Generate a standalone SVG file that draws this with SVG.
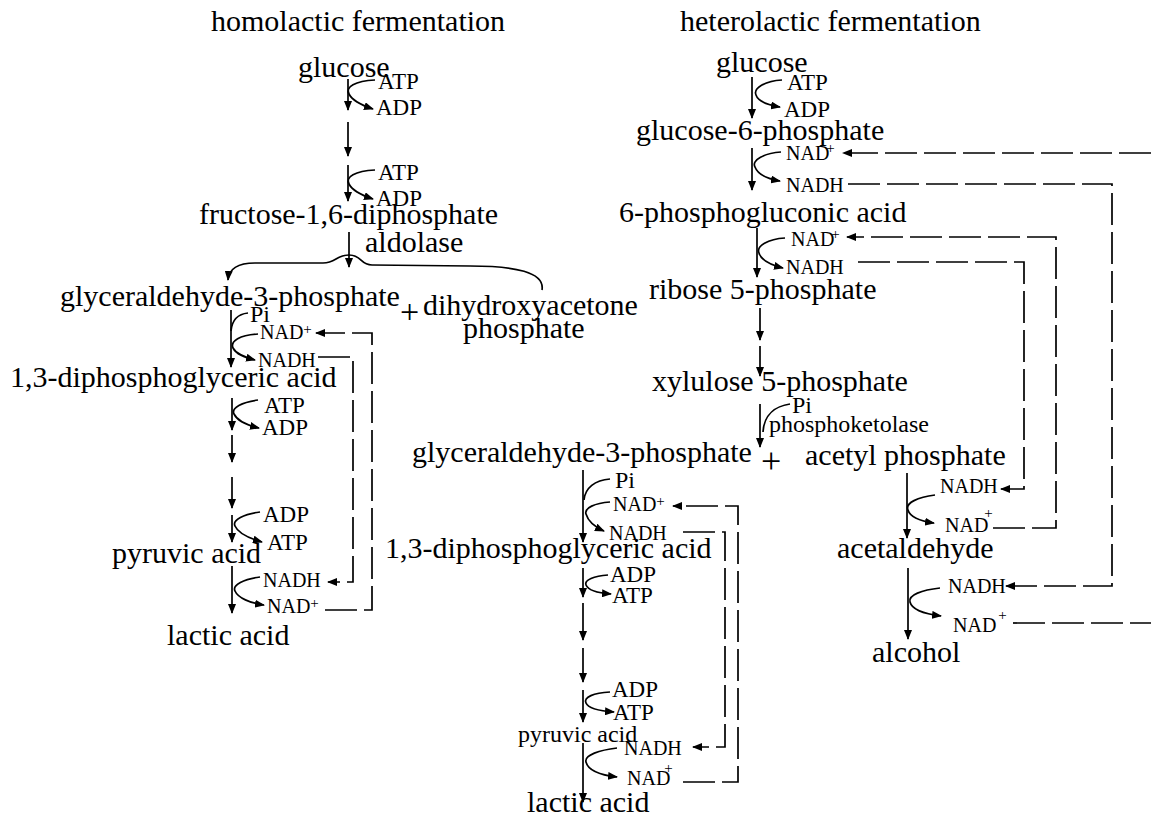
<svg xmlns="http://www.w3.org/2000/svg" width="1151" height="816" viewBox="0 0 1151 816">
<defs>
<marker id="ah" markerWidth="11" markerHeight="8" refX="9" refY="4" orient="auto" markerUnits="userSpaceOnUse"><path d="M0,0 L10,4 L0,8 z" fill="#000"/></marker>
<style>
text{font-family:"Liberation Serif","Times New Roman",serif;fill:#000}
.m{font-size:30px}
.s{font-size:23px}
.n{font-size:20px}
.p{font-size:24px}
.sup{font-size:15px}
.ln{fill:none;stroke:#000;stroke-width:1.7}
.ar{fill:none;stroke:#000;stroke-width:1.7;marker-end:url(#ah)}
.da{fill:none;stroke:#000;stroke-width:1.7;stroke-dasharray:32 7}
.dar{fill:none;stroke:#000;stroke-width:1.7;stroke-dasharray:32 7;marker-end:url(#ah)}
</style>
</defs>
<rect width="1151" height="816" fill="#fff"/>

<!-- titles -->
<g id="title-homo"><text class="m" x="211" y="31">homolactic fermentation</text></g>
<g id="title-hetero"><text class="m" x="680" y="31">heterolactic fermentation</text></g>

<!-- LEFT: homolactic -->
<g id="L-glucose"><text class="m" x="298" y="77">glucose</text></g>
<g id="L-atp1"><text class="s" x="378" y="89">ATP</text></g>
<g id="L-adp1"><text class="s" x="376" y="115">ADP</text></g>
<g id="L-atp2"><text class="s" x="378" y="180">ATP</text></g>
<g id="L-adp2"><text class="s" x="376" y="206">ADP</text></g>
<g id="L-fdp"><text class="m" x="199" y="224">fructose-1,6-diphosphate</text></g>
<g id="L-aldolase"><text class="m" x="365" y="252">aldolase</text></g>
<g id="L-g3p"><text class="m" x="60" y="306">glyceraldehyde-3-phosphate</text></g>
<g id="L-dhap"><text style="font-size:34px" x="400" y="323">+</text><text class="m" x="423" y="315">dihydroxyacetone</text><text class="m" x="463" y="338">phosphate</text></g>
<g id="L-pi"><text class="p" x="250" y="322">Pi</text></g>
<g id="L-nad1"><text class="n" x="260" y="339">NAD<tspan class="sup" dy="-5">+</tspan></text></g>
<g id="L-nadh1"><text class="n" x="258" y="367">NADH</text></g>
<g id="L-dpg"><text class="m" x="10" y="387">1,3-diphosphoglyceric acid</text></g>
<g id="L-atp3"><text class="s" x="264" y="413">ATP</text></g>
<g id="L-adp3"><text class="s" x="262" y="435">ADP</text></g>
<g id="L-adp4"><text class="s" x="263" y="522">ADP</text></g>
<g id="L-atp4"><text class="s" x="267" y="550">ATP</text></g>
<g id="L-pyruvic"><text class="m" x="112" y="563">pyruvic acid</text></g>
<g id="L-nadh2"><text class="n" x="263" y="587">NADH</text></g>
<g id="L-nad2"><text class="n" x="267" y="613">NAD<tspan class="sup" dy="-5">+</tspan></text></g>
<g id="L-lactic"><text class="m" x="167" y="645">lactic acid</text></g>

<!-- MIDDLE -->
<g id="M-g3p"><text class="m" x="412" y="462">glyceraldehyde-3-phosphate</text></g>
<g id="M-plus"><text style="font-size:36px" x="761" y="473">+</text></g>
<g id="M-pi"><text class="p" x="615" y="488">Pi</text></g>
<g id="M-nad1"><text class="n" x="613" y="511">NAD<tspan class="sup" dy="-5">+</tspan></text></g>
<g id="M-nadh1"><text class="n" x="609" y="540">NADH</text></g>
<g id="M-dpg"><text class="m" x="385" y="558">1,3-diphosphoglyceric acid</text></g>
<g id="M-adp1"><text class="s" x="610" y="582">ADP</text></g>
<g id="M-atp1"><text class="s" x="612" y="603">ATP</text></g>
<g id="M-adp2"><text class="s" x="612" y="697">ADP</text></g>
<g id="M-atp2"><text class="s" x="613" y="720">ATP</text></g>
<g id="M-pyruvic"><text style="font-size:24px" x="518" y="742">pyruvic acid</text></g>
<g id="M-nadh2"><text class="n" x="624" y="755">NADH</text></g>
<g id="M-nad2"><text class="n" x="627" y="785">NAD<tspan class="sup" dy="-12" dx="-6">+</tspan></text></g>
<g id="M-lactic"><text class="m" x="527" y="812">lactic acid</text></g>

<!-- RIGHT: heterolactic -->
<g id="R-glucose"><text class="m" x="716" y="72">glucose</text></g>
<g id="R-atp"><text class="s" x="787" y="90">ATP</text></g>
<g id="R-adp"><text class="s" x="784" y="117">ADP</text></g>
<g id="R-g6p"><text class="m" x="636" y="140">glucose-6-phosphate</text></g>
<g id="R-nad1"><text class="n" x="786" y="160">NAD<tspan class="sup" dy="-7" dx="-3">+</tspan></text></g>
<g id="R-nadh1"><text class="n" x="786" y="192">NADH</text></g>
<g id="R-6pga"><text class="m" x="619" y="222">6-phosphogluconic acid</text></g>
<g id="R-nad2"><text class="n" x="791" y="246">NAD<tspan class="sup" dy="-7" dx="-3">+</tspan></text></g>
<g id="R-nadh2"><text class="n" x="786" y="274">NADH</text></g>
<g id="R-r5p"><text class="m" x="649" y="299">ribose 5-phosphate</text></g>
<g id="R-x5p"><text class="m" x="652" y="391">xylulose 5-phosphate</text></g>
<g id="R-pi"><text class="p" x="792" y="413">Pi</text></g>
<g id="R-pk"><text style="font-size:24px" x="769" y="432">phosphoketolase</text></g>
<g id="R-acp"><text class="m" x="805" y="465">acetyl phosphate</text></g>
<g id="R-nadh3"><text class="n" x="940" y="493">NADH</text></g>
<g id="R-nad3"><text class="n" x="945" y="532">NAD<tspan class="sup" dy="-14" dx="-4">+</tspan></text></g>
<g id="R-acetaldehyde"><text class="m" x="837" y="558">acetaldehyde</text></g>
<g id="R-nadh4"><text class="n" x="948" y="593">NADH</text></g>
<g id="R-nad4"><text class="n" x="953" y="632">NAD<tspan class="sup" dy="-12" dx="2">+</tspan></text></g>
<g id="R-alcohol"><text class="m" x="872" y="662">alcohol</text></g>

<g id="connectors">
<!-- left main chain -->
<path class="ar" d="M348 79 V110"/>
<path class="ar" d="M375 80 C355 81 345 87 349 94 C352 100 361 105 373 109"/>
<path class="ar" d="M348 122 V156"/>
<path class="ar" d="M348 165 V201"/>
<path class="ar" d="M375 170 C355 171 345 177 349 184 C352 190 361 195 373 199"/>
<path class="ar" d="M349 232 V267"/>
<path class="ar" d="M542 290 C545 272 515 266 470 266 L372 265 C360 265 362 255 349 255 C336 255 336 263 323 263 L255 263 C238 263 229 268 228 280"/>
<path class="ar" d="M231 310 V367"/>
<path class="ln" d="M248 313 C238 314 232 320 231 331"/>
<path class="ar" d="M258 334 C240 335 230 341 233 348 C236 354 244 357 255 360"/>
<path class="dar" d="M318 357 H353 V582 H328"/>
<path class="dar" d="M325 610 H372 V333 H316"/>
<path class="ar" d="M232 398 V430"/>
<path class="ar" d="M258 400 C242 402 231 408 234 414 C237 420 246 425 259 428"/>
<path class="ar" d="M232 435 V462"/>
<path class="ar" d="M232 477 V508"/>
<path class="ar" d="M232 515 V542"/>
<path class="ar" d="M260 512 C244 514 232 520 235 526 C238 533 248 538 262 542"/>
<path class="ar" d="M232 566 V613"/>
<path class="ar" d="M260 577 C244 579 232 585 235 591 C238 598 250 603 264 605"/>

<!-- middle chain -->
<path class="ar" d="M760 404 V447"/>
<path class="ar" d="M583 470 V542"/>
<path class="ln" d="M610 479 C595 480 585 488 584 500"/>
<path class="ar" d="M610 502 C595 503 584 508 586 514 C588 521 595 527 604 531"/>
<path class="dar" d="M683 532 H725 V747 H693"/>
<path class="dar" d="M683 782 H738 V506 H673"/>
<path class="ar" d="M583 568 V597"/>
<path class="ar" d="M608 575 C594 576 584 580 586 585 C588 590 598 593 611 594"/>
<path class="ar" d="M583 603 V640"/>
<path class="ar" d="M583 648 V682"/>
<path class="ar" d="M583 690 V722"/>
<path class="ar" d="M610 692 C594 693 583 697 586 703 C588 708 600 711 614 712"/>
<path class="ar" d="M583 743 V802"/>
<path class="ar" d="M617 748 C600 750 584 755 586 762 C588 770 600 775 617 777"/>

<!-- right chain -->
<path class="ar" d="M752 77 V118"/>
<path class="ar" d="M782 80 C765 81 753 88 756 95 C758 101 768 105 780 107"/>
<path class="ar" d="M752 148 V190"/>
<path class="ar" d="M781 152 C765 153 751 160 755 167 C758 175 768 179 780 181"/>
<path class="dar" d="M1151 153 H843"/>
<path class="dar" d="M848 184 H1112 V586 H1006"/>
<path class="ar" d="M757 228 V277"/>
<path class="ar" d="M785 238 C768 239 756 246 759 253 C761 260 771 265 783 268"/>
<path class="dar" d="M993 528 H1056 V237 H847"/>
<path class="dar" d="M858 262 H1024 V489 H1001"/>
<path class="ar" d="M760 308 V340"/>
<path class="ar" d="M760 346 V376"/>
<path class="ln" d="M790 404 C776 406 764 414 763 432"/>
<path class="ar" d="M907 473 V538"/>
<path class="ar" d="M935 495 C918 497 905 503 908 510 C910 517 920 521 934 523"/>
<path class="ar" d="M908 568 V639"/>
<path class="ar" d="M940 588 C922 590 908 595 910 602 C912 610 925 614 941 616"/>
<path class="da" d="M1013 623 H1151"/>
</g>
</svg>
